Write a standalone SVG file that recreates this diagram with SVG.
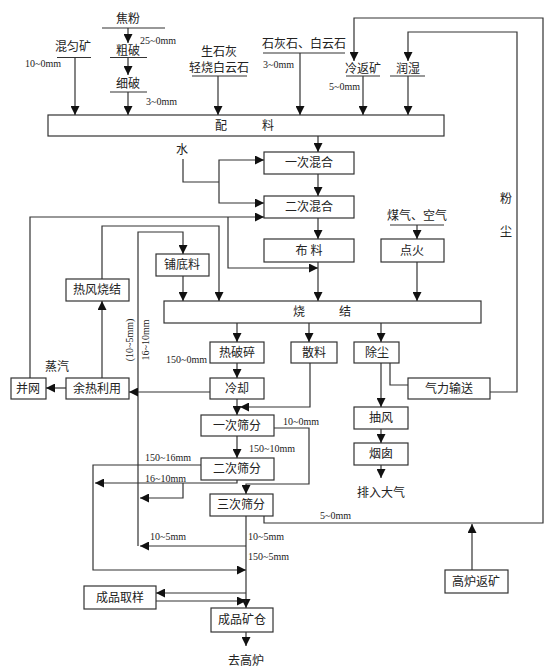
<svg xmlns="http://www.w3.org/2000/svg" width="553" height="668" viewBox="0 0 553 668">
<defs>
<marker id="a" markerWidth="9" markerHeight="9" refX="9" refY="4.5" orient="auto" markerUnits="userSpaceOnUse"><path d="M0,0 L9,4.5 L0,9 z" fill="#111"/></marker>
<style>
rect{fill:#fff;stroke:#333;stroke-width:1.2}
.c{fill:none;stroke:#333;stroke-width:1.2}
.ar{marker-end:url(#a)}
.u{stroke:#333;stroke-width:1.2}
text{font-family:"Liberation Serif","Noto Sans CJK SC",serif;fill:#222}
.t{font-size:12px;text-anchor:middle}
.s{font-size:10px}
</style>
</defs>
<rect x="0" y="0" width="553" height="668" style="fill:#fff;stroke:none"/>

<g id="jiaofen"><text class="t" x="128" y="23">焦粉</text><line class="u" x1="102" y1="28" x2="165" y2="28"/></g>
<g id="cupo"><text class="t" x="128" y="55">粗破</text><line class="u" x1="110" y1="57.5" x2="147" y2="57.5"/></g>
<g id="xipo"><text class="t" x="128" y="88">细破</text><line class="u" x1="110" y1="92" x2="147" y2="92"/></g>
<g id="hunyunkuang"><text class="t" x="73" y="51">混匀矿</text><line class="u" x1="57" y1="57.5" x2="91" y2="57.5"/></g>
<g id="shengshihui"><text class="t" x="219" y="56">生石灰</text><text class="t" x="219" y="72">轻烧白云石</text><line class="u" x1="192" y1="76" x2="247" y2="76"/></g>
<g id="shihuishi"><text class="t" x="304" y="48">石灰石、白云石</text><line class="u" x1="263" y1="53" x2="345" y2="53"/></g>
<g id="lengfankuang"><text class="t" x="363" y="73">冷返矿</text><line class="u" x1="346" y1="76" x2="380" y2="76"/></g>
<g id="runshi"><text class="t" x="408" y="73">润湿</text><line class="u" x1="390" y1="76" x2="425" y2="76"/></g>
<g id="peiliao"><rect x="48" y="115" width="396" height="21"/><text class="t" x="221" y="130">配</text><text class="t" x="268" y="130">料</text></g>
<g id="shui"><text class="t" x="182" y="154">水</text></g>
<g id="yicihunhe"><rect x="264" y="152" width="90" height="22"/><text class="t" x="309" y="167">一次混合</text></g>
<g id="ercihunhe"><rect x="264" y="196" width="90" height="22"/><text class="t" x="309" y="211">二次混合</text></g>
<g id="buliao"><rect x="264" y="239" width="90" height="23"/><text class="t" x="309" y="255">布 料</text></g>
<g id="meiqi"><text class="t" x="417" y="220">煤气、空气</text><line class="u" x1="390" y1="225" x2="444" y2="225"/></g>
<g id="dianhuo"><rect x="381" y="239" width="63" height="23"/><text class="t" x="412" y="255">点火</text></g>
<g id="fenchen"><text class="t" x="506" y="203">粉</text><text class="t" x="506" y="236">尘</text></g>
<g id="pudiliao"><rect x="156" y="254" width="53" height="22"/><text class="t" x="182" y="269">铺底料</text></g>
<g id="refengshaojie"><rect x="66" y="279" width="63" height="22"/><text class="t" x="97" y="294">热风烧结</text></g>
<g id="shaojie"><rect x="164" y="301" width="317" height="22"/><text class="t" x="299" y="316">烧</text><text class="t" x="345" y="316">结</text></g>
<g id="reposui"><rect x="210" y="342" width="54" height="21"/><text class="t" x="237" y="357">热破碎</text></g>
<g id="sanliao"><rect x="291" y="342" width="46" height="21"/><text class="t" x="314" y="357">散料</text></g>
<g id="chuchen"><rect x="354" y="342" width="45" height="21"/><text class="t" x="377" y="357">除尘</text></g>
<g id="lengque"><rect x="210" y="378" width="54" height="21"/><text class="t" x="237" y="393">冷却</text></g>
<g id="yurelyong"><rect x="66" y="378" width="63" height="21"/><text class="t" x="97" y="393">余热利用</text></g>
<g id="bingwang"><rect x="11" y="378" width="35" height="21"/><text class="t" x="28" y="393">并网</text></g>
<g id="zhengqi"><text class="t" x="57" y="371">蒸汽</text></g>
<g id="qilishusong"><rect x="408" y="378" width="82" height="21"/><text class="t" x="449" y="393">气力输送</text></g>
<g id="choufeng"><rect x="354" y="407" width="54" height="22"/><text class="t" x="381" y="422">抽风</text></g>
<g id="yancong"><rect x="354" y="443" width="54" height="22"/><text class="t" x="381" y="458">烟囱</text></g>
<g id="pairudaqi"><text class="t" x="381" y="497">排入大气</text></g>
<g id="yicishaifen"><rect x="201" y="415" width="73" height="21"/><text class="t" x="237" y="430">一次筛分</text></g>
<g id="ercishaifen"><rect x="201" y="458" width="73" height="22"/><text class="t" x="237" y="473">二次筛分</text></g>
<g id="sancishaifen"><rect x="210" y="494" width="63" height="22"/><text class="t" x="241" y="509">三次筛分</text></g>
<g id="chengpinquyang"><rect x="84" y="586" width="72" height="23"/><text class="t" x="120" y="602">成品取样</text></g>
<g id="chengpinkuangcang"><rect x="211" y="608" width="62" height="24"/><text class="t" x="242" y="624">成品矿仓</text></g>
<g id="qugaolu"><text class="t" x="246" y="665">去高炉</text></g>
<g id="gaolufankuang"><rect x="445" y="570" width="63" height="23"/><text class="t" x="476" y="586">高炉返矿</text></g>

<g id="labels">
<text class="s" x="140" y="44">25~0mm</text>
<text class="s" x="25" y="67">10~0mm</text>
<text class="s" x="146" y="105">3~0mm</text>
<text class="s" x="263" y="68">3~0mm</text>
<text class="s" x="329" y="90">5~0mm</text>
<text class="s" x="166" y="363">150~0mm</text>
<text class="s" text-anchor="middle" transform="translate(133,340) rotate(-90)">(10~5mm)</text>
<text class="s" text-anchor="middle" transform="translate(149,340) rotate(-90)">16~10mm</text>
<text class="s" x="283" y="425">10~0mm</text>
<text class="s" x="249" y="452">150~10mm</text>
<text class="s" x="145" y="461">150~16mm</text>
<text class="s" x="145" y="482">16~10mm</text>
<text class="s" x="320" y="519">5~0mm</text>
<text class="s" x="150" y="540">10~5mm</text>
<text class="s" x="248" y="540">10~5mm</text>
<text class="s" x="248" y="560">150~5mm</text>
</g>

<g id="connectors">
<path class="c ar" d="M128,28 V43"/>
<path class="c ar" d="M128,57.5 V75"/>
<path class="c ar" d="M128,92 V115"/>
<path class="c ar" d="M75,57.5 V115"/>
<path class="c ar" d="M218,76 V115"/>
<path class="c ar" d="M300,53 V115"/>
<path class="c ar" d="M363,76 V115"/>
<path class="c ar" d="M408,76 V115"/>
<path class="c ar" d="M264,516 V523 H543 V18 H354 V61"/>
<path class="c ar" d="M490,392 H517 V32 H408 V61"/>
<path class="c ar" d="M472,570 V524"/>
<path class="c ar" d="M318,136 V152"/>
<path class="c" d="M183,159 V182 H219"/>
<path class="c ar" d="M219,182 V160 H264"/>
<path class="c ar" d="M219,182 V203 H264"/>
<path class="c ar" d="M318,174 V196"/>
<path class="c ar" d="M30,378 V217 H264"/>
<path class="c ar" d="M228,217 V268 H318"/>
<path class="c ar" d="M318,218 V239"/>
<path class="c ar" d="M318,262 V301"/>
<path class="c ar" d="M417,225 V239"/>
<path class="c ar" d="M417,262 V301"/>
<path class="c ar" d="M183,276 V301"/>
<path class="c ar" d="M138,546 V232 H183 V254"/>
<path class="c ar" d="M102,378 V301"/>
<path class="c ar" d="M102,279 V226 H219 V301"/>
<path class="c ar" d="M237,323 V342"/>
<path class="c ar" d="M309,323 V342"/>
<path class="c ar" d="M381,323 V342"/>
<path class="c ar" d="M237,363 V378"/>
<path class="c ar" d="M210,392 H129"/>
<path class="c ar" d="M66,388 H46"/>
<path class="c ar" d="M237,399 V415"/>
<path class="c ar" d="M310,363 V407 H240"/>
<path class="c ar" d="M381,363 V407"/>
<path class="c ar" d="M381,429 V443"/>
<path class="c ar" d="M381,465 V478"/>
<path class="c" d="M390,363 V385 H408"/>
<path class="c ar" d="M237,436 V458"/>
<path class="c ar" d="M274,428 H309 V484 H246 V494"/>
<path class="c ar" d="M201,465 H93 V570 H246"/>
<path class="c ar" d="M237,480 V483 H95"/>
<path class="c ar" d="M183,483 V498 H140"/>
<path class="c ar" d="M246,516 V608"/>
<path class="c ar" d="M246,546 H140"/>
<path class="c ar" d="M246,593 H156"/>
<path class="c ar" d="M156,601 H246"/>
<path class="c ar" d="M246,632 V646"/>
</g>
</svg>
